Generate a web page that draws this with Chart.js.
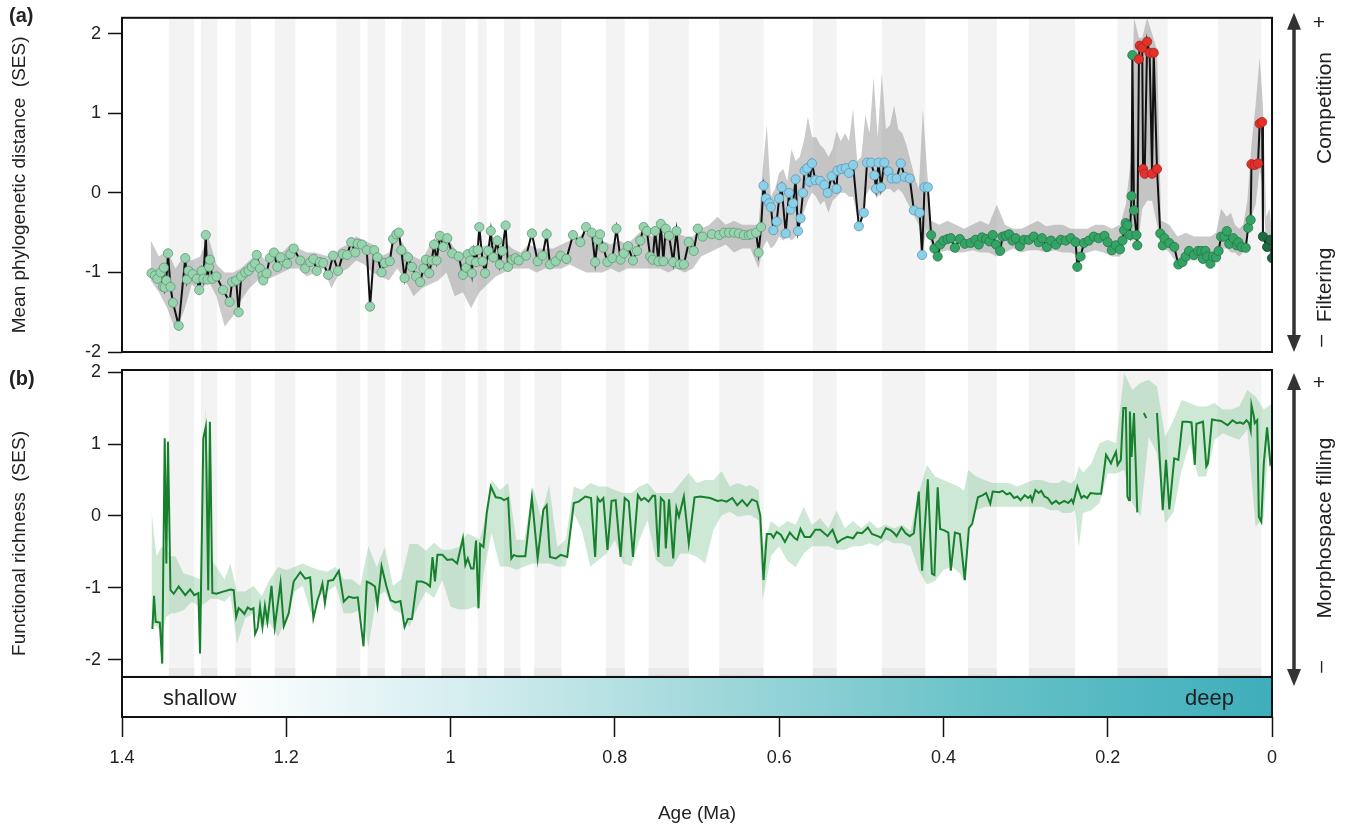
<!DOCTYPE html>
<html>
<head>
<meta charset="utf-8">
<title>MPD and functional richness through time</title>
<script src="https://cdn.jsdelivr.net/npm/chart.js@4.4.1/dist/chart.umd.min.js"></script>
<style>
  html, body { margin: 0; padding: 0; background: #fff; }
  body { width: 1347px; height: 828px; overflow: hidden; font-family: "Liberation Sans", Arial, sans-serif; color: #222; }
  #wrap { position: relative; width: 1347px; height: 828px; }
  canvas { position: absolute; left: 0; top: 0; }
  .tag { position: absolute; font-weight: bold; font-size: 20px; z-index: 3; }
  .note { position: absolute; font-size: 22px; z-index: 3; line-height: 1; }
  .side { position: absolute; font-size: 21px; white-space: nowrap; z-index: 3; line-height: 1;
          transform: translate(-50%, -50%) rotate(-90deg); }
</style>
</head>
<body>
<div id="wrap">
  <canvas id="panelA" width="1347" height="828"></canvas>
  <canvas id="panelB" width="1347" height="828"></canvas>
  <div class="tag" style="left:9px;top:4px">(a)</div>
  <div class="tag" style="left:9px;top:367px">(b)</div>
  <div class="note" style="left:163px;top:687px">shallow</div>
  <div class="note" style="left:1185px;top:687px">deep</div>
  <div class="side" style="left:1319px;top:21px;transform:translate(-50%,-50%)">+</div>
  <div class="side" style="left:1323px;top:108px">Competition</div>
  <div class="side" style="left:1323px;top:285px">Filtering</div>
  <div class="side" style="left:1319px;top:341px">–</div>
  <div class="side" style="left:1319px;top:381px;transform:translate(-50%,-50%)">+</div>
  <div class="side" style="left:1323px;top:528px">Morphospace filling</div>
  <div class="side" style="left:1319px;top:667px">–</div>
</div>

<script>
// ══════════════════════════════════════════════════════════════
// (a) MPD (SES) and (b) functional richness (SES) vs age
// ══════════════════════════════════════════════════════════════

// ── panel (a): mean phylogenetic distance, one dot per sample ──
const mpdAge = [
  1.364,1.360,1.357,1.353,1.350,1.349,1.348,1.346,1.344,1.341,
  1.338,1.331,1.323,1.321,1.319,1.314,1.309,1.306,1.303,1.301,
  1.298,1.296,1.294,1.293,1.290,1.285,1.277,1.269,1.266,1.261,
  1.258,1.255,1.250,1.246,1.242,1.238,1.236,1.232,1.229,1.228,
  1.224,1.220,1.215,1.211,1.207,1.199,1.195,1.191,1.183,1.177,
  1.171,1.167,1.163,1.159,1.155,1.149,1.143,1.137,1.131,1.126,
  1.121,1.116,1.113,1.108,1.102,1.098,1.093,1.089,1.084,1.080,
  1.074,1.070,1.066,1.063,1.060,1.056,1.052,1.047,1.042,1.037,
  1.033,1.030,1.026,1.023,1.020,1.017,1.013,1.009,1.004,0.998,
  0.990,0.985,0.981,0.979,0.976,0.974,0.972,0.969,0.967,0.965,
  0.961,0.958,0.954,0.951,0.948,0.943,0.940,0.937,0.933,0.930,
  0.925,0.921,0.917,0.908,0.901,0.894,0.888,0.883,0.879,0.872,
  0.866,0.859,0.851,0.842,0.835,0.828,0.824,0.821,0.818,0.814,
  0.809,0.803,0.798,0.793,0.789,0.784,0.778,0.773,0.769,0.765,
  0.761,0.757,0.754,0.751,0.747,0.744,0.741,0.738,0.734,0.729,
  0.725,0.721,0.716,0.710,0.704,0.699,0.693,0.682,0.673,0.667,
  0.661,0.655,0.649,0.643,0.637,0.634,0.628,0.625,0.622,0.619,
  0.616,0.612,0.610,0.607,0.603,0.600,0.597,0.592,0.588,0.586,
  0.583,0.580,0.577,0.574,0.571,0.569,0.566,0.563,0.560,0.556,
  0.550,0.545,0.541,0.536,0.530,0.529,0.524,0.519,0.515,0.510,
  0.503,0.497,0.493,0.488,0.484,0.482,0.479,0.476,0.472,0.467,
  0.463,0.457,0.452,0.447,0.441,0.436,0.429,0.426,0.423,0.419,
  0.415,0.411,0.407,0.404,0.400,0.395,0.391,0.386,0.380,0.374,
  0.367,0.361,0.357,0.353,0.348,0.344,0.340,0.336,0.331,0.328,
  0.324,0.320,0.316,0.312,0.307,0.302,0.296,0.290,0.284,0.280,
  0.274,0.269,0.263,0.257,0.251,0.245,0.239,0.237,0.233,0.229,
  0.223,0.217,0.211,0.204,0.200,0.195,0.190,0.185,0.182,0.180,
  0.178,0.176,0.173,0.171,0.170,0.168,0.165,0.164,0.162,0.161,
  0.158,0.157,0.155,0.152,0.149,0.146,0.144,0.140,0.136,0.133,
  0.131,0.125,0.119,0.114,0.109,0.105,0.101,0.095,0.090,0.086,
  0.084,0.081,0.079,0.075,0.072,0.068,0.065,0.062,0.058,0.055,
  0.052,0.047,0.043,0.041,0.037,0.032,0.029,0.026,0.025,0.021,
  0.017,0.015,0.012,0.011,0.006,0.002,0.000
];
const mpdSes = [
  -1.01,-1.04,-1.08,-1.00,-1.18,-0.94,-1.19,-1.10,-0.76,-1.18,
  -1.38,-1.67,-0.82,-1.09,-0.98,-1.02,-1.08,-1.22,-0.98,-1.08,
  -0.53,-1.09,-0.93,-0.84,-1.08,-1.05,-1.22,-1.37,-1.12,-1.10,
  -1.50,-1.05,-1.00,-0.98,-0.93,-0.89,-0.78,-0.95,-1.04,-1.10,
  -1.01,-0.82,-0.75,-0.93,-0.81,-0.89,-0.77,-0.70,-0.85,-0.95,
  -0.87,-0.83,-0.98,-0.87,-0.88,-1.03,-0.79,-0.98,-0.77,-0.78,
  -0.62,-0.75,-0.64,-0.65,-0.72,-1.43,-0.72,-0.81,-1.00,-0.88,
  -0.86,-0.58,-0.52,-0.50,-0.72,-1.07,-0.81,-0.93,-1.05,-1.12,
  -0.95,-0.84,-1.01,-0.85,-0.65,-0.85,-0.54,-0.68,-0.57,-0.76,
  -0.80,-1.03,-0.94,-0.77,-0.85,-1.01,-0.73,-0.87,-0.72,-0.43,
  -0.86,-1.01,-0.73,-0.48,-0.81,-0.60,-0.90,-0.73,-0.41,-0.93,
  -0.84,-0.82,-0.85,-0.79,-0.51,-0.86,-0.79,-0.52,-0.90,-0.86,
  -0.79,-0.83,-0.53,-0.62,-0.43,-0.50,-0.87,-0.59,-0.52,-0.69,
  -0.87,-0.82,-0.45,-0.84,-0.76,-0.67,-0.85,-0.73,-0.60,-0.43,
  -0.48,-0.80,-0.84,-0.48,-0.86,-0.39,-0.86,-0.45,-0.54,-0.87,
  -0.48,-0.90,-0.90,-0.62,-0.73,-0.45,-0.55,-0.52,-0.53,-0.50,
  -0.50,-0.50,-0.51,-0.53,-0.53,-0.52,-0.50,-0.75,-0.43,0.09,
  -0.07,-0.13,-0.18,-0.47,-0.36,-0.07,0.07,-0.51,0.00,-0.21,
  -0.13,0.17,-0.48,-0.32,0.00,0.28,0.31,0.14,0.37,0.16,
  0.15,0.10,0.00,0.21,0.05,0.28,0.30,0.31,0.25,0.35,
  -0.42,-0.25,0.38,0.38,0.22,0.05,0.38,0.07,0.38,0.27,
  0.18,0.18,0.37,0.20,0.18,-0.22,-0.25,-0.78,0.07,0.07,
  -0.53,-0.70,-0.80,-0.65,-0.60,-0.58,-0.57,-0.69,-0.58,-0.64,
  -0.63,-0.59,-0.65,-0.56,-0.58,-0.61,-0.53,-0.65,-0.73,-0.55,
  -0.54,-0.52,-0.60,-0.57,-0.67,-0.59,-0.59,-0.55,-0.62,-0.57,
  -0.68,-0.60,-0.65,-0.59,-0.60,-0.57,-0.62,-0.93,-0.80,-0.63,
  -0.60,-0.55,-0.57,-0.54,-0.62,-0.72,-0.66,-0.71,-0.60,-0.47,
  -0.38,-0.41,-0.53,-0.04,1.73,-0.22,-0.53,-0.66,1.68,1.85,
  1.82,0.30,0.24,1.90,1.76,0.24,1.76,0.30,-0.51,-0.66,
  -0.57,-0.63,-0.68,-0.90,-0.87,-0.80,-0.73,-0.78,-0.73,-0.73,
  -0.83,-0.73,-0.80,-0.89,-0.80,-0.81,-0.73,-0.55,-0.55,-0.48,
  -0.64,-0.57,-0.66,-0.62,-0.68,-0.69,-0.44,-0.34,0.36,0.35,
  0.37,0.87,0.89,-0.55,-0.68,-0.59,-0.82
];

// null-model envelope behind the MPD line
const mpdBandAge = [
  1.365,1.355,1.345,1.335,1.325,1.315,1.305,1.295,1.285,1.275,
  1.265,1.255,1.245,1.235,1.225,1.215,1.205,1.195,1.185,1.175,
  1.165,1.155,1.145,1.135,1.125,1.115,1.105,1.095,1.085,1.075,
  1.065,1.055,1.045,1.035,1.025,1.015,1.005,0.995,0.985,0.975,
  0.965,0.955,0.945,0.935,0.925,0.915,0.905,0.895,0.885,0.875,
  0.865,0.855,0.845,0.835,0.825,0.815,0.805,0.795,0.785,0.775,
  0.765,0.755,0.745,0.735,0.725,0.715,0.705,0.695,0.685,0.675,
  0.665,0.655,0.645,0.635,0.625,0.620,0.615,0.610,0.605,0.600,
  0.595,0.590,0.585,0.580,0.575,0.570,0.565,0.560,0.555,0.550,
  0.545,0.540,0.535,0.530,0.525,0.520,0.515,0.510,0.505,0.500,
  0.495,0.490,0.485,0.480,0.475,0.470,0.465,0.460,0.455,0.450,
  0.445,0.440,0.435,0.430,0.425,0.420,0.415,0.405,0.395,0.385,
  0.375,0.365,0.355,0.345,0.335,0.325,0.315,0.305,0.295,0.285,
  0.275,0.265,0.255,0.245,0.235,0.225,0.215,0.205,0.195,0.185,
  0.178,0.172,0.168,0.162,0.158,0.152,0.146,0.140,0.135,0.125,
  0.115,0.105,0.095,0.085,0.075,0.068,0.062,0.055,0.050,0.045,
  0.040,0.035,0.030,0.025,0.020,0.015,0.011,0.007,0.003,0.000
];
const mpdLo = [
  -1.10,-1.25,-1.45,-1.72,-1.50,-1.15,-1.25,-1.10,-1.30,-1.68,
  -1.55,-1.35,-1.20,-1.10,-1.10,-1.05,-1.00,-0.95,-0.95,-1.05,
  -1.00,-0.95,-1.20,-1.00,-0.95,-0.85,-0.90,-1.00,-1.05,-1.10,
  -0.95,-1.10,-1.30,-1.20,-1.15,-1.10,-1.00,-1.30,-1.25,-1.45,
  -1.25,-1.15,-1.05,-1.00,-0.95,-0.95,-0.95,-1.00,-0.95,-0.95,
  -0.95,-0.90,-0.95,-1.00,-1.00,-1.00,-0.95,-1.00,-0.95,-0.95,
  -0.95,-0.95,-0.95,-1.00,-0.95,-1.00,-0.95,-0.80,-0.75,-0.70,
  -0.65,-0.75,-0.70,-0.70,-0.95,-0.70,-0.60,-0.70,-0.65,-0.55,
  -0.60,-0.55,-0.60,-0.55,-0.40,-0.25,-0.10,0.00,-0.05,-0.15,
  -0.10,-0.25,-0.10,-0.05,0.00,0.00,-0.05,-0.05,-0.30,-0.35,
  -0.05,0.05,0.00,-0.05,0.00,0.05,0.05,0.00,0.05,0.00,
  -0.10,-0.20,-0.30,-0.40,-0.70,-0.45,-0.65,-0.75,-0.72,-0.75,
  -0.75,-0.72,-0.75,-0.75,-0.80,-0.75,-0.70,-0.75,-0.72,-0.72,
  -0.75,-0.72,-0.75,-0.75,-0.80,-0.75,-0.72,-0.75,-0.80,-0.80,
  -0.55,-0.60,-0.60,-0.55,-0.20,-0.10,-0.10,-0.40,-0.65,-0.75,
  -0.90,-0.85,-0.85,-0.85,-0.90,-0.85,-0.70,-0.70,-0.75,-0.75,
  -0.80,-0.75,-0.55,-0.30,-0.15,0.30,0.05,-0.70,-0.75,-0.85
];
const mpdHi = [
  -0.60,-0.80,-0.72,-0.95,-0.80,-0.85,-0.80,-0.55,-0.90,-1.00,
  -1.00,-0.95,-0.85,-0.75,-0.85,-0.72,-0.75,-0.65,-0.70,-0.75,
  -0.75,-0.78,-0.80,-0.70,-0.65,-0.55,-0.60,-0.65,-0.80,-0.75,
  -0.50,-0.70,-0.80,-0.85,-0.65,-0.55,-0.55,-0.70,-0.80,-0.70,
  -0.70,-0.65,-0.60,-0.60,-0.70,-0.75,-0.65,-0.70,-0.70,-0.70,
  -0.65,-0.60,-0.55,-0.50,-0.55,-0.60,-0.65,-0.60,-0.65,-0.55,
  -0.45,-0.55,-0.50,-0.55,-0.50,-0.55,-0.55,-0.45,-0.40,-0.30,
  -0.40,-0.35,-0.40,-0.40,-0.40,0.30,0.85,-0.05,0.05,0.25,
  0.30,0.15,0.55,0.40,0.45,0.65,0.95,0.70,0.70,0.60,
  0.55,0.45,0.55,0.78,0.65,0.75,0.65,1.05,0.40,0.45,
  0.98,0.75,1.45,0.70,1.50,0.80,0.85,1.10,0.80,0.75,
  0.60,0.40,0.20,0.05,1.05,0.30,-0.35,-0.40,-0.35,-0.40,
  -0.45,-0.40,-0.35,-0.40,-0.15,-0.40,-0.45,-0.45,-0.40,-0.35,
  -0.42,-0.40,-0.40,-0.45,-0.45,-0.45,-0.40,-0.40,-0.45,-0.40,
  -0.15,0.40,2.20,1.95,1.95,2.20,2.00,1.80,-0.35,-0.40,
  -0.55,-0.50,-0.55,-0.55,-0.55,-0.50,-0.20,-0.30,-0.25,-0.40,
  -0.45,-0.40,-0.10,0.60,1.10,1.70,1.10,-0.30,-0.20,-0.50
];

// ── panel (b): functional richness (null = gap in the record) ──
const fricAge = [
  1.363,1.361,1.359,1.354,1.351,1.348,1.346,1.344,1.341,1.337,
  1.331,1.323,1.317,1.312,1.307,1.305,1.301,1.298,1.295,1.293,
  1.290,1.285,1.277,1.268,1.264,1.261,1.258,1.255,1.251,1.247,
  1.243,1.240,1.238,1.235,1.232,1.229,1.226,1.223,1.218,1.214,
  1.207,1.203,1.197,1.191,1.183,1.177,1.171,1.167,1.162,1.159,
  1.156,1.153,1.149,1.143,1.136,1.130,1.124,1.118,1.113,1.106,
  1.102,1.097,1.092,1.089,1.084,1.078,1.073,1.067,1.061,1.056,
  1.052,1.047,1.041,1.035,1.029,1.025,1.022,1.019,1.016,1.010,
  1.004,0.998,0.992,0.985,0.982,0.979,0.975,0.972,0.969,0.966,
  0.964,0.960,0.956,0.951,0.945,0.939,0.935,0.930,0.926,0.923,
  0.919,0.909,0.901,0.894,0.887,0.883,0.879,0.872,0.866,0.858,
  0.850,0.844,0.836,0.829,0.824,0.821,0.818,0.814,0.809,0.804,
  0.799,0.793,0.788,0.783,0.778,0.772,0.768,0.764,0.759,0.754,
  0.751,0.747,0.744,0.740,0.738,0.734,0.729,0.725,0.722,0.716,
  0.710,0.703,0.696,0.684,0.675,0.670,0.664,0.657,0.651,0.645,
  0.639,0.633,0.627,0.623,0.619,0.615,0.610,0.607,0.603,0.598,
  0.593,0.587,0.581,0.578,0.574,0.569,0.562,0.556,0.550,0.541,
  0.535,0.529,0.523,0.517,0.510,0.505,0.499,0.492,0.487,0.480,
  0.476,0.470,0.464,0.460,0.457,0.451,0.446,0.441,0.436,0.430,
  0.426,0.419,0.414,0.411,0.407,0.404,0.399,0.394,0.391,0.386,
  0.380,0.374,0.369,0.365,0.358,0.352,0.348,0.343,0.340,0.332,
  0.328,0.323,0.319,0.314,0.310,0.306,0.301,0.297,0.294,0.292,
  0.288,0.284,0.281,0.277,0.273,0.268,0.263,0.259,0.253,0.248,
  0.244,0.242,0.237,0.232,0.229,0.225,0.221,0.214,0.208,0.202,
  0.196,0.194,0.190,0.188,0.184,0.181,0.178,0.176,0.174,0.173,
  0.171,0.168,0.164,0.160,0.156,0.153,0.147,0.140,0.133,0.129,
  0.125,0.119,0.114,0.109,0.103,0.098,0.094,0.092,0.084,0.080,
  0.078,0.073,0.068,0.062,0.054,0.048,0.043,0.039,0.035,0.031,
  0.028,0.026,0.025,0.022,0.021,0.018,0.016,0.013,0.010,0.006,
  0.002,0.000
];
const fricSes = [
  -1.57,-1.11,-1.47,-1.48,-2.05,1.08,-0.66,1.03,-1.03,-1.08,
  -0.98,-1.10,-1.02,-1.10,-1.07,-1.91,1.08,1.24,-1.03,1.31,
  -1.07,-1.08,-1.05,-1.02,-1.03,-1.40,-1.28,-1.31,-1.36,-1.27,
  -1.30,-1.28,-1.64,-1.56,-1.26,-1.54,-1.25,-1.47,-0.97,-1.54,
  -0.93,-1.53,-1.35,-0.91,-0.78,-0.87,-0.85,-1.42,-1.17,-1.07,
  -0.94,-1.21,-0.90,-0.89,-0.76,-1.19,-1.12,-1.14,-1.13,-1.81,
  -0.91,-0.94,-0.98,-1.24,-0.70,-0.98,-1.17,-1.20,-1.18,-1.54,
  -1.43,-1.43,-0.91,-0.91,-0.94,-0.98,-0.57,-0.91,-0.54,-0.54,
  -0.61,-0.60,-0.66,-0.31,-0.68,-0.59,-0.73,-0.73,-0.34,-1.28,
  -0.39,-0.43,0.04,0.41,0.26,0.25,0.22,0.25,-0.59,-0.54,
  -0.56,-0.56,0.26,-0.59,0.09,0.15,-0.57,-0.59,-0.54,-0.57,
  0.18,0.20,0.27,0.25,-0.57,0.25,0.20,0.25,-0.47,0.21,
  0.22,-0.57,0.25,0.20,-0.57,0.29,0.22,0.25,0.20,0.28,
  0.28,-0.57,0.25,0.20,-0.45,0.23,-0.59,0.11,-0.01,0.27,
  -0.38,0.26,0.27,0.25,0.21,0.22,0.20,0.25,0.15,0.22,
  0.14,0.23,0.20,0.01,-0.89,-0.25,-0.25,-0.30,-0.22,-0.26,
  -0.36,-0.23,-0.31,-0.33,-0.18,-0.29,-0.29,-0.19,-0.19,-0.28,
  -0.19,-0.37,-0.32,-0.29,-0.31,-0.23,-0.24,-0.16,-0.25,-0.28,
  -0.30,-0.17,-0.20,-0.24,-0.28,-0.16,-0.24,-0.28,-0.24,0.34,
  -0.76,0.51,-0.80,-0.82,0.40,-0.18,-0.20,-0.23,-0.76,-0.23,
  -0.25,-0.89,-0.17,-0.11,0.26,0.29,0.32,0.17,0.34,0.33,
  0.35,0.30,0.32,0.25,0.27,0.22,0.29,0.25,0.28,0.21,
  0.36,0.32,0.35,0.27,0.25,0.17,0.21,0.17,0.21,0.18,
  0.23,0.18,0.41,0.25,0.28,0.25,0.32,0.31,0.31,0.85,
  0.73,0.79,0.89,0.71,0.78,1.50,1.50,0.27,0.22,1.45,
  0.82,1.43,0.05,null,1.43,1.36,null,1.43,0.08,0.78,
  0.09,0.80,0.78,1.31,1.31,1.30,0.71,1.28,1.31,0.69,
  0.73,1.34,1.33,1.32,1.26,1.33,1.29,1.30,1.28,1.33,
  1.29,1.19,1.54,1.38,1.29,1.33,-0.01,-0.08,0.73,1.23,
  0.73,0.78
];

const fricBandAge = [
  1.364,1.358,1.352,1.346,1.340,1.335,1.325,1.315,1.305,1.298,
  1.292,1.285,1.275,1.268,1.260,1.250,1.240,1.230,1.220,1.210,
  1.200,1.190,1.180,1.170,1.160,1.150,1.140,1.130,1.120,1.110,
  1.100,1.090,1.080,1.070,1.060,1.050,1.040,1.030,1.020,1.010,
  1.000,0.990,0.980,0.970,0.965,0.960,0.950,0.940,0.930,0.920,
  0.910,0.900,0.890,0.880,0.870,0.860,0.850,0.840,0.830,0.820,
  0.810,0.800,0.790,0.780,0.770,0.760,0.750,0.740,0.730,0.720,
  0.710,0.700,0.690,0.680,0.670,0.660,0.650,0.640,0.635,0.625,
  0.620,0.610,0.600,0.590,0.580,0.570,0.560,0.550,0.540,0.530,
  0.520,0.510,0.500,0.490,0.480,0.470,0.460,0.450,0.440,0.430,
  0.420,0.410,0.400,0.390,0.380,0.375,0.370,0.360,0.350,0.340,
  0.330,0.320,0.310,0.300,0.290,0.280,0.270,0.260,0.255,0.245,
  0.240,0.235,0.230,0.220,0.210,0.200,0.190,0.180,0.170,0.160,
  0.150,0.140,0.130,0.120,0.110,0.100,0.090,0.080,0.070,0.060,
  0.050,0.040,0.030,0.020,0.010,0.005,0.000
];
const fricLo = [
  -1.50,-1.53,-1.63,-1.40,-1.35,-1.35,-1.31,-1.19,-1.26,-1.20,
  -1.15,-1.15,-1.19,-1.10,-1.77,-1.42,-1.35,-1.54,-1.49,-1.68,
  -1.42,-1.05,-0.97,-1.35,-1.11,-1.05,-0.97,-1.35,-1.35,-1.30,
  -1.82,-1.11,-1.05,-1.30,-1.35,-1.54,-1.26,-1.05,-1.14,-0.89,
  -1.26,-1.30,-1.30,-1.26,-1.30,-0.80,-0.24,-0.70,-0.70,-0.75,
  -0.70,-0.66,-0.66,-0.66,-0.70,-0.70,0.04,-0.20,-0.70,-0.61,
  -0.52,-0.33,-0.66,-0.70,-0.33,-0.06,-0.61,-0.70,-0.70,-0.52,
  -0.52,-0.57,-0.66,-0.19,0.01,0.06,-0.01,0.01,0.01,-0.06,
  -1.17,-0.56,-0.42,-0.62,-0.71,-0.52,-0.42,-0.42,-0.42,-0.47,
  -0.47,-0.42,-0.42,-0.38,-0.42,-0.33,-0.38,-0.38,-0.42,-0.76,
  -0.95,-0.90,-0.75,-0.70,-0.80,-0.90,-0.19,0.08,0.13,0.13,
  0.13,0.13,0.13,0.13,0.13,0.13,0.08,0.08,0.04,0.04,
  0.08,-0.43,0.04,0.08,0.18,0.59,0.59,0.64,0.18,-0.01,
  1.10,0.87,-0.10,0.05,0.64,1.01,0.55,0.55,1.06,1.15,
  1.10,1.06,1.20,-0.15,-0.01,0.87,0.50
];
const fricHi = [
  0.06,-0.56,-0.43,-0.45,-0.56,-0.56,-0.80,-0.83,-0.88,1.52,
  -0.60,-0.71,-0.88,-0.66,-1.05,-1.05,-0.97,-1.11,-0.88,-0.71,
  -0.75,-0.71,-0.66,-0.71,-0.75,-0.77,-0.71,-0.88,-0.88,-0.97,
  -0.42,-0.71,-0.43,-0.97,-0.88,-0.39,-0.39,-0.48,-0.37,-0.47,
  -0.47,-0.43,-0.24,-0.29,-0.33,-0.15,0.50,0.36,0.46,-0.33,
  -0.33,0.41,-0.01,0.43,-0.43,-0.33,0.41,0.36,0.46,0.41,
  0.41,0.36,0.32,0.32,0.41,0.46,0.32,0.32,0.32,0.46,
  0.60,0.46,0.50,0.50,0.62,0.41,0.46,0.41,0.43,0.36,
  -0.43,-0.07,-0.16,-0.07,-0.12,0.13,-0.12,-0.03,-0.17,0.08,
  -0.17,-0.07,-0.17,-0.07,-0.17,-0.12,-0.17,-0.12,-0.21,0.32,
  0.71,0.55,0.50,0.45,0.40,0.35,0.64,0.55,0.50,0.46,
  0.46,0.46,0.41,0.46,0.50,0.50,0.46,0.46,0.50,0.45,
  0.50,0.69,0.60,0.73,1.01,1.06,1.01,1.98,1.75,1.85,
  1.89,1.80,1.10,1.33,1.61,1.57,1.52,1.52,1.57,1.48,
  1.48,1.52,1.75,1.66,1.48,1.52,1.57
];

// ── shaded stages (age from / to) and axis ticks ──
const stageFrom = [1.343,1.304,1.262,1.214,1.139,1.101,1.060,1.011,0.967,0.935,
                   0.898,0.811,0.759,0.673,0.559,0.475,0.370,0.296,0.188,0.066];
const stageTo   = [1.312,1.284,1.243,1.189,1.110,1.080,1.031,0.982,0.956,0.915,
                   0.865,0.788,0.710,0.619,0.530,0.422,0.335,0.240,0.127,0.013];
const xTicks = [1.4, 1.2, 1.0, 0.8, 0.6, 0.4, 0.2, 0];
const yTicks = [-2, -1, 0, 1, 2];

// panel (b) shares its canvas with the depth bar, below this value
const PANEL_B_FLOOR = -2.236;
const PLOT_LEFT = 122;
const PLOT_RIGHT_PAD = 75;

Chart.defaults.font.family = '"Liberation Sans", Arial, sans-serif';
Chart.defaults.color = '#222';

function pairs(xs, ys) {
  const n = Math.min(xs.length, ys.length);
  const out = [];
  for (let i = 0; i < n; i++) out.push({ x: xs[i], y: ys[i] });
  return out;
}

function dotFill(age, v) {
  if (v > 0.2 && age < 0.165) return '#e2312b';
  if (age <= 0.011) return '#1f6b41';
  if (age <= 0.415) return '#34a464';
  if (age <= 0.619) return '#8ccfe9';
  return '#97d4ae';
}
function dotEdge(age, v) {
  if (v > 0.2 && age < 0.165) return '#a52420';
  if (age <= 0.011) return '#17482c';
  if (age <= 0.415) return '#25764a';
  if (age <= 0.619) return '#5b98b0';
  return '#5f9978';
}

function stageLayer(floor) {
  return {
    id: 'stageLayer',
    beforeDatasetsDraw(chart) {
      const { ctx, chartArea: a, scales: { x, y } } = chart;
      const bottom = floor == null ? a.bottom : y.getPixelForValue(floor);
      ctx.save();
      for (let i = 0; i < stageFrom.length; i++) {
        const x1 = x.getPixelForValue(stageFrom[i]);
        const x2 = x.getPixelForValue(stageTo[i]);
        ctx.fillStyle = '#f3f3f3';
        ctx.fillRect(x1, a.top, x2 - x1, bottom - a.top);
        if (floor != null) {
          ctx.fillStyle = '#e9e9e9';
          ctx.fillRect(x1, bottom - 9, x2 - x1, 9);
        }
      }
      ctx.restore();
    }
  };
}

function drawArrow(ctx, x, yTop, yBot) {
  const head = 17, half = 7;
  ctx.save();
  ctx.strokeStyle = '#333';
  ctx.fillStyle = '#333';
  ctx.lineWidth = 3.5;
  ctx.beginPath();
  ctx.moveTo(x, yTop + head - 2);
  ctx.lineTo(x, yBot - head + 2);
  ctx.stroke();
  ctx.beginPath();
  ctx.moveTo(x, yTop); ctx.lineTo(x - half, yTop + head); ctx.lineTo(x + half, yTop + head); ctx.closePath();
  ctx.fill();
  ctx.beginPath();
  ctx.moveTo(x, yBot); ctx.lineTo(x - half, yBot - head); ctx.lineTo(x + half, yBot - head); ctx.closePath();
  ctx.fill();
  ctx.restore();
}

const frameA = {
  id: 'frameA',
  afterDatasetsDraw(chart) {
    const { ctx, chartArea: a } = chart;
    ctx.save();
    ctx.strokeStyle = '#111';
    ctx.lineWidth = 2;
    ctx.strokeRect(a.left, a.top, a.right - a.left, a.bottom - a.top);
    ctx.restore();
  },
  afterDraw(chart) {
    const a = chart.chartArea;
    drawArrow(chart.ctx, a.right + 22, a.top - 5, a.bottom);
  }
};

const frameB = {
  id: 'frameB',
  afterDatasetsDraw(chart) {
    const { ctx, chartArea: a, scales: { y } } = chart;
    const split = y.getPixelForValue(PANEL_B_FLOOR);
    ctx.save();
    const g = ctx.createLinearGradient(a.left, 0, a.right, 0);
    g.addColorStop(0, '#ffffff');
    g.addColorStop(0.09, '#ffffff');
    g.addColorStop(0.3, '#d4edef');
    g.addColorStop(0.5, '#a4d9dc');
    g.addColorStop(0.75, '#67c2c8');
    g.addColorStop(1, '#3eaebb');
    ctx.fillStyle = g;
    ctx.fillRect(a.left, split, a.right - a.left, a.bottom - split);
    ctx.strokeStyle = '#111';
    ctx.lineWidth = 2;
    ctx.strokeRect(a.left, a.top, a.right - a.left, split - a.top);
    ctx.strokeRect(a.left, split, a.right - a.left, a.bottom - split);
    ctx.restore();
  },
  afterDraw(chart) {
    const a = chart.chartArea;
    const split = chart.scales.y.getPixelForValue(PANEL_B_FLOOR);
    drawArrow(chart.ctx, a.right + 22, a.top + 3, split + 9);
  }
};

function yAxis(min, max, title) {
  return {
    min, max,
    afterFit: s => { s.width = PLOT_LEFT; },
    afterBuildTicks: s => { s.ticks = yTicks.map(v => ({ value: v })); },
    grid: { drawOnChartArea: false, tickLength: 14, tickColor: '#111', tickWidth: 1.5 },
    border: { display: false },
    ticks: { padding: 7, color: '#222', font: { size: 18 }, callback: v => String(v) },
    title: { display: true, text: title, color: '#222', font: { size: 19 }, padding: { top: 8 } }
  };
}

const common = {
  responsive: false,
  animation: false,
  events: [],
  plugins: { legend: { display: false }, tooltip: { enabled: false } }
};

// ── panel (a) ──
new Chart(document.getElementById('panelA'), {
  type: 'line',
  data: {
    datasets: [
      { data: pairs(mpdBandAge, mpdHi), fill: '+1', backgroundColor: 'rgba(150,150,150,0.5)',
        borderColor: 'rgba(0,0,0,0)', pointRadius: 0, order: 3 },
      { data: pairs(mpdBandAge, mpdLo), fill: false,
        borderColor: 'rgba(0,0,0,0)', pointRadius: 0, order: 3 },
      { data: pairs(mpdAge, mpdSes), borderColor: '#111', borderWidth: 2, tension: 0,
        pointRadius: 4.6, pointBorderWidth: 0.8,
        pointBackgroundColor: c => c.raw ? dotFill(c.raw.x, c.raw.y) : '#97d4ae',
        pointBorderColor: c => c.raw ? dotEdge(c.raw.x, c.raw.y) : '#5f9978',
        order: 1 }
    ]
  },
  options: {
    ...common,
    layout: { padding: { left: 0, top: 16, right: PLOT_RIGHT_PAD, bottom: 476 } },
    scales: {
      x: { type: 'linear', reverse: true, min: 0, max: 1.4, display: false },
      y: yAxis(-2, 2.2, 'Mean phylogenetic distance  (SES)')
    }
  },
  plugins: [stageLayer(null), frameA]
});

// ── panel (b) + depth bar + shared age axis ──
new Chart(document.getElementById('panelB'), {
  type: 'line',
  data: {
    datasets: [
      { data: pairs(fricBandAge, fricHi), fill: '+1', backgroundColor: 'rgba(120,190,140,0.36)',
        borderColor: 'rgba(0,0,0,0)', pointRadius: 0, order: 3 },
      { data: pairs(fricBandAge, fricLo), fill: false,
        borderColor: 'rgba(0,0,0,0)', pointRadius: 0, order: 3 },
      { data: pairs(fricAge, fricSes), borderColor: '#16802c', borderWidth: 2, tension: 0,
        pointRadius: 0, spanGaps: false, order: 1 }
    ]
  },
  options: {
    ...common,
    layout: { padding: { left: 0, top: 370, right: PLOT_RIGHT_PAD, bottom: 0 } },
    scales: {
      x: {
        type: 'linear', reverse: true, min: 0, max: 1.4,
        afterFit: s => { s.height = 111; },
        afterBuildTicks: s => { s.ticks = xTicks.map(v => ({ value: v })); },
        grid: { drawOnChartArea: false, tickLength: 20, tickColor: '#111', tickWidth: 1.5 },
        border: { display: false },
        ticks: { padding: 10, color: '#222', font: { size: 18 }, maxRotation: 0,
                 callback: v => String(Number(v.toFixed(1))) },
        title: { display: true, text: 'Age (Ma)', color: '#222', font: { size: 19 }, padding: { top: 0, bottom: 3 } }
      },
      y: yAxis(-2.792, 2.028, 'Functional richness  (SES)')
    }
  },
  plugins: [stageLayer(PANEL_B_FLOOR), frameB]
});
</script>
</body>
</html>
